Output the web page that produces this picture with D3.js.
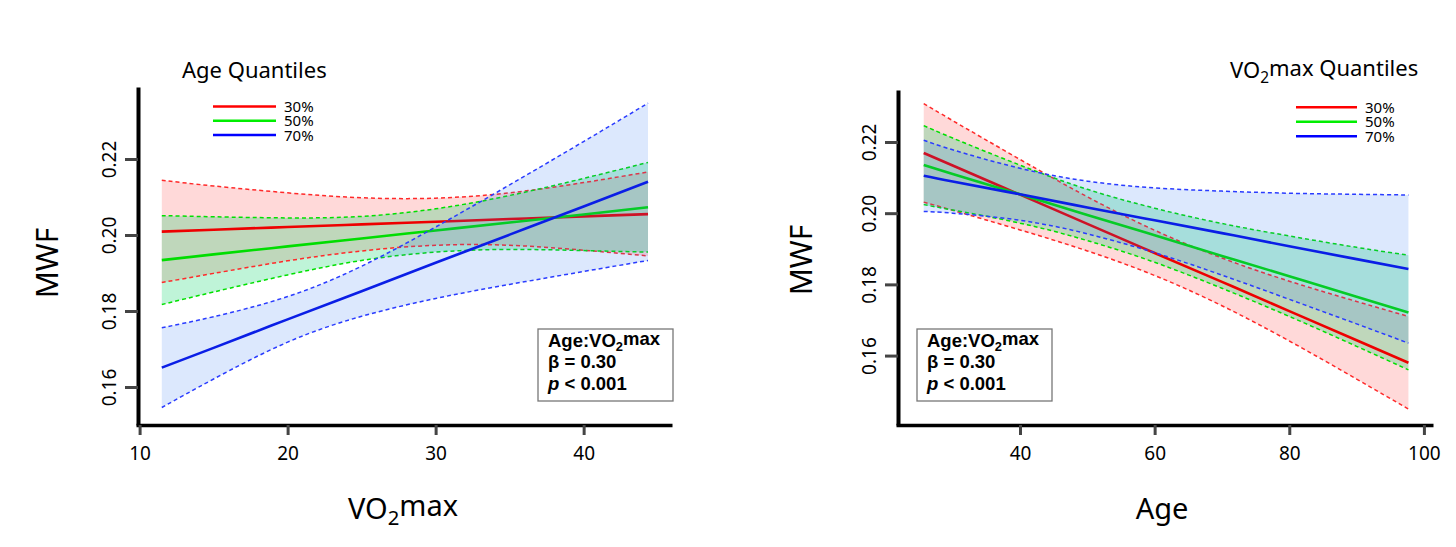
<!DOCTYPE html>
<html>
<head>
<meta charset="utf-8">
<script src="https://cdn.jsdelivr.net/npm/d3@7"></script>
<style>
  body { margin: 0; background: #fff; }
  text { font-family: "Noto Sans", "Open Sans", sans-serif; fill: #000; }
  .box text { font-family: "Liberation Sans", Arial, sans-serif; font-weight: bold; }
</style>
</head>
<body>
<script>
// ---- data ----
const quantLabels = ["30%", "50%", "70%"];
const yTicks = [0.16, 0.18, 0.20, 0.22];
const vo2Ticks = [10, 20, 30, 40];
const ageTicks = [40, 60, 80, 100];

// left panel: MWF vs VO2max, by age quantile
const vo2Grid   = [11.5, 15, 20, 25, 30, 35, 40, 44.35];
const ageQ30Fit = [0.2009, 0.2014, 0.2021, 0.2028, 0.2035, 0.2042, 0.2049, 0.2055];
const ageQ30Hi  = [0.2144, 0.2129, 0.2111, 0.2098, 0.2097, 0.2111, 0.2138, 0.2166];
const ageQ30Lo  = [0.1875, 0.1899, 0.1932, 0.1958, 0.1973, 0.1973, 0.1960, 0.1945];
const ageQ50Fit = [0.1934, 0.1949, 0.1970, 0.1991, 0.2012, 0.2033, 0.2054, 0.2073];
const ageQ50Hi  = [0.2051, 0.2048, 0.2045, 0.2049, 0.2069, 0.2104, 0.2149, 0.2191];
const ageQ50Lo  = [0.1817, 0.1850, 0.1895, 0.1933, 0.1955, 0.1962, 0.1959, 0.1955];
const ageQ70Fit = [0.1651, 0.1703, 0.1778, 0.1852, 0.1927, 0.2001, 0.2075, 0.2140];
const ageQ70Hi  = [0.1756, 0.1785, 0.1838, 0.1918, 0.2021, 0.2132, 0.2246, 0.2347];
const ageQ70Lo  = [0.1546, 0.1621, 0.1718, 0.1786, 0.1833, 0.1870, 0.1904, 0.1933];

// right panel: MWF vs Age, by VO2max quantile
const ageGrid   = [25.7, 30, 40, 50, 60, 70, 80, 90, 97.7];
const vo2Q30Fit = [0.2169, 0.2134, 0.2052, 0.1970, 0.1888, 0.1807, 0.1725, 0.1643, 0.1580];
const vo2Q30Hi  = [0.2308, 0.2260, 0.2151, 0.2046, 0.1952, 0.1874, 0.1809, 0.1752, 0.1710];
const vo2Q30Lo  = [0.2031, 0.2008, 0.1953, 0.1894, 0.1825, 0.1740, 0.1641, 0.1534, 0.1450];
const vo2Q50Fit = [0.2135, 0.2110, 0.2053, 0.1995, 0.1938, 0.1880, 0.1823, 0.1765, 0.1721];
const vo2Q50Hi  = [0.2246, 0.2211, 0.2135, 0.2067, 0.2014, 0.1971, 0.1936, 0.1904, 0.1882];
const vo2Q50Lo  = [0.2024, 0.2009, 0.1972, 0.1923, 0.1862, 0.1789, 0.1710, 0.1626, 0.1560];
const vo2Q70Fit = [0.2105, 0.2089, 0.2053, 0.2016, 0.1980, 0.1944, 0.1907, 0.1871, 0.1843];
const vo2Q70Hi  = [0.2205, 0.2178, 0.2126, 0.2090, 0.2071, 0.2062, 0.2056, 0.2053, 0.2051];
const vo2Q70Lo  = [0.2005, 0.2000, 0.1980, 0.1942, 0.1889, 0.1826, 0.1758, 0.1689, 0.1635];

// ---- styles ----
const bandFill  = ["rgba(255,0,0,0.15)", "rgba(0,210,100,0.25)", "rgba(40,110,240,0.16)"];
const lineColor = ["#ee0000", "#00dd00", "#0a1ee6"];
const dashColor = ["#ff2a2a", "#00e000", "#2a3cff"];
const legColor  = ["#ff0000", "#00ee00", "#0000ff"];

const svg = d3.select("body").append("svg")
  .attr("width", 1456).attr("height", 547);

const panels = [
  {
    grid: vo2Grid,
    fit: [ageQ30Fit, ageQ50Fit, ageQ70Fit],
    lo: [ageQ30Lo, ageQ50Lo, ageQ70Lo],
    hi: [ageQ30Hi, ageQ50Hi, ageQ70Hi],
    xDomain: [9.757, 45.97], xRange: [136, 672],
    yDomain: [0.15, 0.23895], yRange: [425, 87],
    xTicks: vo2Ticks, yAxisX: 138,
    xTitle: [["VO", 0], ["2", 1], ["max", 0]], xTitleX: 403,
    yTitleX: 58, yTitleY: 263,
    legTitle: [["Age Quantiles", 0]], legTitleX: 182,
    legX: [213, 276], legY: [106.5, 120.8, 135.1],
    boxX: 538, boxW: 135
  },
  {
    grid: ageGrid,
    fit: [vo2Q30Fit, vo2Q50Fit, vo2Q70Fit],
    lo: [vo2Q30Lo, vo2Q50Lo, vo2Q70Lo],
    hi: [vo2Q30Hi, vo2Q50Hi, vo2Q70Hi],
    xDomain: [21.58, 101.35], xRange: [896, 1433],
    yDomain: [0.1405, 0.2346], yRange: [425, 90],
    xTicks: ageTicks, yAxisX: 898,
    xTitle: [["Age", 0]], xTitleX: 1162,
    yTitleX: 812, yTitleY: 260,
    legTitle: [["VO", 0], ["2", 1], ["max Quantiles", 0]], legTitleX: 1230,
    legX: [1296, 1357], legY: [107.3, 121.8, 136.3],
    boxX: 917, boxW: 135
  }
];

// write text pieces, flag 1 = subscript
function richText(sel, parts) {
  parts.forEach(function(p, i) {
    const prevSub = i > 0 && parts[i - 1][1] === 1;
    sel.append("tspan")
      .attr("font-size", p[1] === 1 ? "70%" : null)
      .attr("dy", p[1] === 1 ? "0.3em" : (prevSub ? "-0.3em" : null))
      .text(p[0]);
  });
}

panels.forEach(function(p) {
  const x = d3.scaleLinear().domain(p.xDomain).range(p.xRange);
  const y = d3.scaleLinear().domain(p.yDomain).range(p.yRange);
  const g = svg.append("g");

  const area = d3.area()
    .x(function(d) { return x(d.x); })
    .y0(function(d) { return y(d.lo); })
    .y1(function(d) { return y(d.hi); })
    .curve(d3.curveNatural);
  const line = d3.line()
    .x(function(d) { return x(d.x); })
    .y(function(d) { return y(d.v); })
    .curve(d3.curveNatural);

  function rows(i) {
    return p.grid.map(function(gx, k) {
      return { x: gx, lo: p.lo[i][k], hi: p.hi[i][k], fit: p.fit[i][k] };
    });
  }

  function drawBand(i) {
    g.append("path").datum(rows(i))
      .attr("d", area).attr("fill", bandFill[i]);
  }
  function drawDashes(i) {
    ["lo", "hi"].forEach(function(key) {
      g.append("path")
        .datum(rows(i).map(function(r) { return { x: r.x, v: r[key] }; }))
        .attr("d", line).attr("fill", "none")
        .attr("stroke", dashColor[i]).attr("stroke-width", 1.5)
        .attr("stroke-dasharray", "4,3");
    });
  }
  function drawFit(i) {
    g.append("path")
      .datum(rows(i).map(function(r) { return { x: r.x, v: r.fit }; }))
      .attr("d", line).attr("fill", "none")
      .attr("stroke", lineColor[i]).attr("stroke-width", 2.6);
  }

  // red and green first, blue band goes over them
  drawBand(0); drawBand(1);
  drawDashes(0); drawDashes(1);
  drawFit(0); drawFit(1);
  drawBand(2); drawDashes(2); drawFit(2);

  // y axis
  const yAxis = g.append("g")
    .attr("transform", "translate(" + p.yAxisX + ",0)")
    .call(d3.axisLeft(y).tickValues(yTicks).tickSize(13).tickSizeOuter(0)
      .tickFormat(d3.format(".2f")));
  yAxis.select(".domain").attr("stroke", "#000").attr("stroke-width", 4);
  yAxis.selectAll(".tick line").attr("stroke", "#444").attr("stroke-width", 3);
  yAxis.selectAll(".tick text")
    .attr("transform", "rotate(-90)")
    .attr("x", 0).attr("y", -22).attr("dy", 0)
    .attr("text-anchor", "middle")
    .style("font-size", "19px")
    .style("font-family", "'Noto Sans', sans-serif")
    .attr("fill", "#000");

  // x axis
  const xAxis = g.append("g")
    .attr("transform", "translate(0,425)")
    .call(d3.axisBottom(x).tickValues(p.xTicks).tickSize(10).tickSizeOuter(0));
  xAxis.select(".domain").attr("stroke", "#000").attr("stroke-width", 3.5);
  xAxis.selectAll(".tick line").attr("stroke", "#444").attr("stroke-width", 3);
  xAxis.selectAll(".tick text")
    .attr("y", 22)
    .style("font-size", "19px")
    .style("font-family", "'Noto Sans', sans-serif")
    .attr("fill", "#000");

  // axis titles
  richText(g.append("text")
    .attr("x", p.xTitleX).attr("y", 519)
    .attr("text-anchor", "middle").attr("font-size", 29), p.xTitle);
  g.append("text")
    .attr("transform", "translate(" + p.yTitleX + "," + p.yTitleY + ") rotate(-90)")
    .attr("text-anchor", "middle").attr("font-size", 30)
    .text("MWF");

  // legend
  richText(g.append("text")
    .attr("x", p.legTitleX).attr("y", 78).attr("font-size", 22), p.legTitle);
  quantLabels.forEach(function(lab, i) {
    g.append("line")
      .attr("x1", p.legX[0]).attr("x2", p.legX[1])
      .attr("y1", p.legY[i]).attr("y2", p.legY[i])
      .attr("stroke", legColor[i]).attr("stroke-width", 2.5);
    g.append("text")
      .attr("x", p.legX[1] + 8).attr("y", p.legY[i]).attr("dy", "0.36em")
      .attr("font-size", 15).text(lab);
  });

  // stats box
  const box = g.append("g").attr("class", "box");
  box.append("rect")
    .attr("x", p.boxX).attr("y", 329).attr("width", p.boxW).attr("height", 72)
    .attr("fill", "#fff").attr("stroke", "#777").attr("stroke-width", 1.3);
  richText(box.append("text")
    .attr("x", p.boxX + 10).attr("y", 347).attr("font-size", 18.5),
    [["Age:VO", 0], ["2", 1], ["max", 0]]);
  box.append("text")
    .attr("x", p.boxX + 10).attr("y", 368).attr("font-size", 18.5)
    .text("\u03b2 = 0.30");
  const pt = box.append("text")
    .attr("x", p.boxX + 10).attr("y", 390).attr("font-size", 18.5);
  pt.append("tspan").attr("font-style", "italic").text("p");
  pt.append("tspan").text(" < 0.001");
});
</script>
</body>
</html>
